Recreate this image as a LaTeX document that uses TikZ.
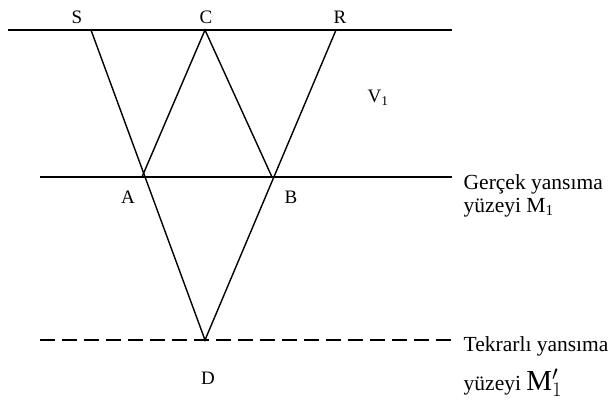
\documentclass[tikz,border=0pt]{standalone}
\usepackage{fontspec}
\setmainfont{Liberation Serif}
\usetikzlibrary{positioning}

\begin{document}
\begin{tikzpicture}[x=1pt, y=-1pt, line width=1.4pt,
  every node/.style={inner sep=0pt},
  ptlabel/.style={font=\fontsize{19}{21}\selectfont},
  sidetext/.style={anchor=west, font=\fontsize{21.5}{24}\selectfont}]
  \useasboundingbox (0,0) rectangle (612,400);
  % surfaces
  \coordinate (topL) at (8,30);   \coordinate (topR) at (452,30);
  \coordinate (midL) at (40,177); \coordinate (midR) at (452,177);
  \coordinate (botL) at (40,340); \coordinate (botR) at (452,340);
  % points
  \coordinate (s) at (91,30);
  \coordinate (c) at (205,30);
  \coordinate (r) at (336,30);
  \coordinate (a) at (142,177);
  \coordinate (b) at (272,177);
  \coordinate (d) at (205,340);
  \draw (topL) -- (topR);
  \draw (midL) -- (midR);
  \draw[dash pattern=on 15pt off 7pt] (botL) -- (botR);
  \draw (s) -- (d) -- (r);
  \draw (a) -- (c) -- (b);
  % labels
  \node[ptlabel] (lS) at (77,17) {S};
  \node[ptlabel] (lC) at (206,17) {C};
  \node[ptlabel] (lR) at (340,17) {R};
  \node[ptlabel] (lA) at (128,197) {A};
  \node[ptlabel] (lB) at (291,197) {B};
  \node[ptlabel] (lD) at (208,378) {D};
  \node[ptlabel] (lV) at (378,98) {V\textsubscript{1}};
  \node[sidetext] (g1) at (463,184) {Gerçek yansıma};
  \node[sidetext] (g2) at (463,208) {yüzeyi M\textsubscript{1}};
  \node[sidetext] (t1) at (463,346) {Tekrarlı yansıma};
  \node[sidetext, anchor=base west] (t2) at (463,390) {yüzeyi {\fontsize{29}{29}\selectfont M$'_1$}};
\end{tikzpicture}
\end{document}
